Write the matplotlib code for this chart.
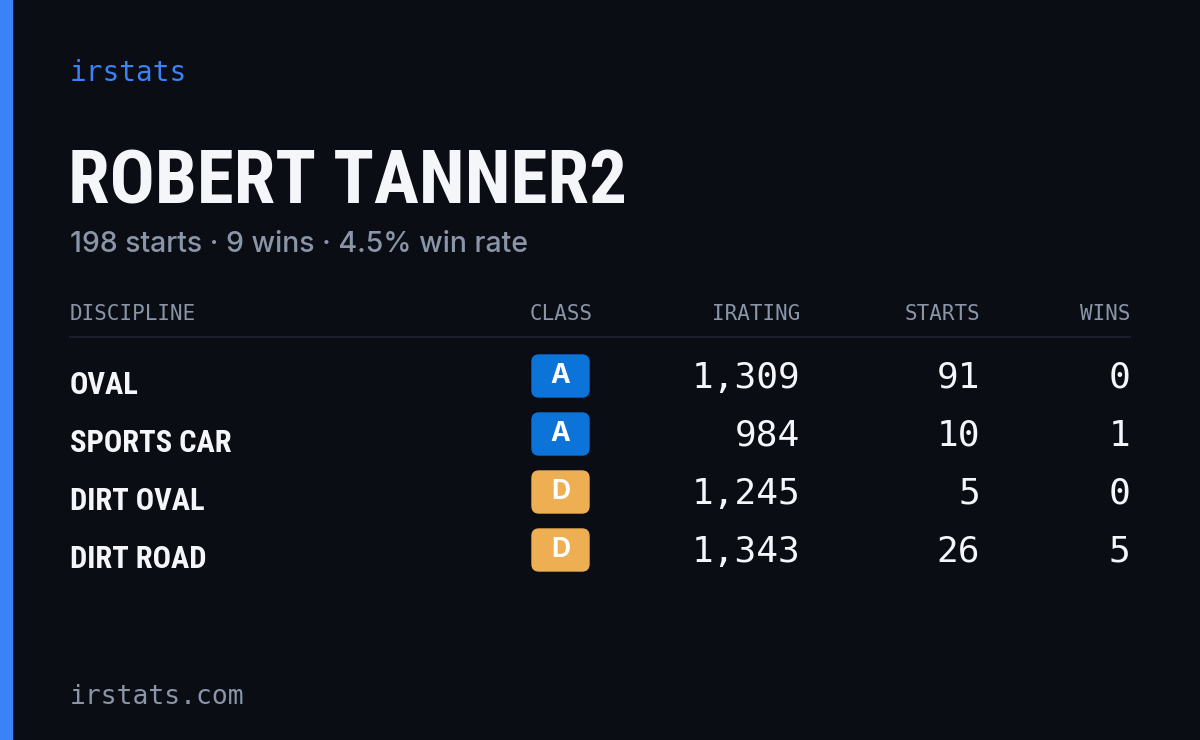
import matplotlib
matplotlib.use("Agg")
import matplotlib.pyplot as plt
from matplotlib.patches import FancyBboxPatch, Rectangle

player = "ROBERT TANNER2"
summary = "198 starts · 9 wins · 4.5% win rate"
headers = ["DISCIPLINE", "CLASS", "IRATING", "STARTS", "WINS"]
disciplines = ["OVAL", "SPORTS CAR", "DIRT OVAL", "DIRT ROAD"]
classes = ["A", "A", "D", "D"]
iratings = [1309, 984, 1245, 1343]
starts = [91, 10, 5, 26]
wins = [0, 1, 0, 5]

BG = "#0a0d14"
BLUE = "#3b82f6"
GRAY = "#8b95a8"
WHITE = "#f5f6fa"
CLASS_COLORS = {"A": "#0c74d9", "D": "#eeae52"}
COND = ["Roboto Condensed", "Liberation Sans Narrow", "DejaVu Sans"]
MONO = "DejaVu Sans Mono"

fig = plt.figure(figsize=(12, 7.4), dpi=100, facecolor=BG)
ax = fig.add_axes([0, 0, 1, 1])
ax.set_xlim(0, 1200)
ax.set_ylim(740, 0)
ax.axis("off")
ax.add_patch(Rectangle((0, 0), 12, 740, color=BLUE))

ax.text(70, 73, "irstats", color=BLUE, fontsize=20, family=MONO, va="center")
ax.text(68, 184, player, color=WHITE, fontsize=54, family=COND,
        weight="bold", va="center")
ax.text(70, 245, summary, color=GRAY, fontsize=20.5, family="Inter",
        weight="medium", va="center")

hx = [70, 593, 800, 980, 1130]
ha = ["left", "right", "right", "right", "right"]
for h, x, a in zip(headers, hx, ha):
    ax.text(x, 314, h, color=GRAY, fontsize=15, family=MONO, ha=a, va="center")
ax.plot([70, 1130], [337, 337], color="#1c202c", lw=1.5)

for i, (d, c, ir, s, w) in enumerate(zip(disciplines, classes, iratings, starts, wins)):
    y = 376 + 58 * i
    ax.text(70, y + 9, d, color=WHITE, fontsize=22, family=COND, weight="bold", va="center")
    ax.add_patch(FancyBboxPatch((532, y - 21), 57, 42,
                                boxstyle="round,pad=0,rounding_size=7",
                                color=CLASS_COLORS[c]))
    ax.text(560.5, y, c, color="white", fontsize=19, family="Inter",
            weight="bold", ha="center", va="center")
    for val, x in zip([f"{ir:,}", str(s), str(w)], [800, 980, 1130]):
        ax.text(x, y + 2, val, color=WHITE, fontsize=26, family=MONO,
                ha="right", va="center")

ax.text(70, 697, "irstats.com", color=GRAY, fontsize=19, family=MONO, va="center")

fig.savefig("out.png", dpi=100, facecolor=BG)
